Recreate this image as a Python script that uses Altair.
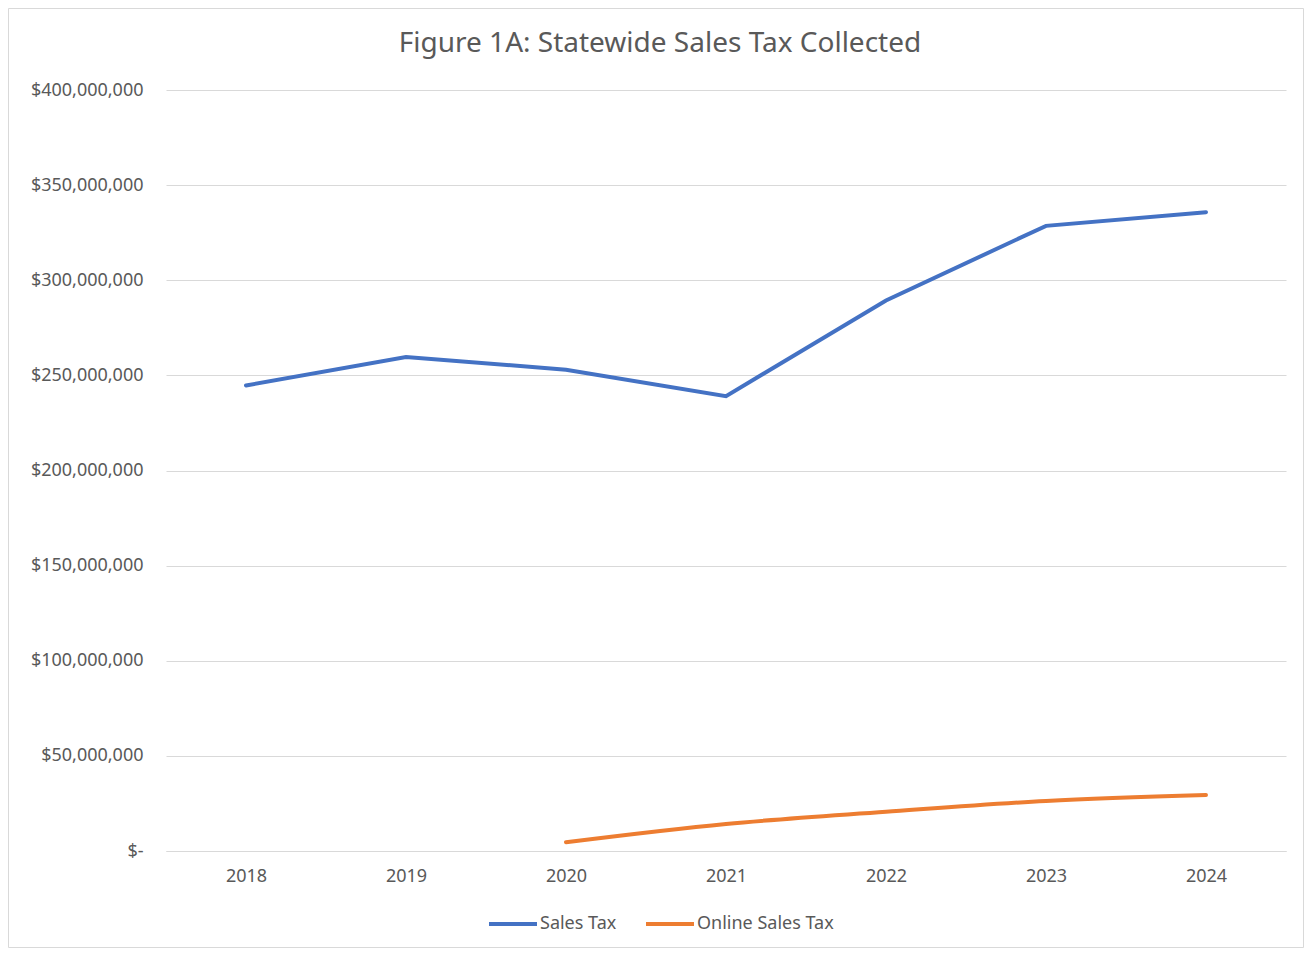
import altair as alt
import pandas as pd

years = ["2018", "2019", "2020", "2021", "2022", "2023", "2024"]
sales_tax = [244.7e6, 259.6e6, 253.0e6, 239.1e6, 289.4e6, 328.6e6, 335.8e6]
online_years = ["2020", "2021", "2022", "2023", "2024"]
online_tax = [4.6e6, 14.2e6, 20.6e6, 26.3e6, 29.4e6]
series_names = ["Sales Tax", "Online Sales Tax"]
series_colors = ["#4472C4", "#ED7D31"]
y_ticks = [0, 50e6, 100e6, 150e6, 200e6, 250e6, 300e6, 350e6, 400e6]

FONT = "Noto Sans"
GREY = "#595959"

df_sales = pd.DataFrame({"Year": years, "Value": sales_tax, "Series": series_names[0]})
df_online = pd.DataFrame({"Year": online_years, "Value": online_tax, "Series": series_names[1]})

x_enc = alt.X("Year:O", sort=years, scale=alt.Scale(domain=years, padding=0.5),
              axis=alt.Axis(title=None, labelAngle=0, ticks=False, domain=True,
                            domainColor="#d9d9d9", labelFontSize=18, labelColor=GREY,
                            labelFont=FONT, labelPadding=16, grid=False))
y_enc = alt.Y("Value:Q", scale=alt.Scale(domain=[0, 400e6], nice=False),
              axis=alt.Axis(title=None, values=y_ticks, ticks=False, domain=False,
                            gridColor="#d9d9d9", gridWidth=1, labelFontSize=18,
                            labelColor=GREY, labelFont=FONT, labelPadding=23,
                            labelExpr="datum.value == 0 ? '$-\u00a0\u00a0' : '$' + format(datum.value, ',')"))
color_enc = alt.Color("Series:N", scale=alt.Scale(domain=series_names, range=series_colors),
                      legend=alt.Legend(title=None, orient="none", legendX=321, legendY=808,
                                        direction="horizontal", symbolType="stroke",
                                        symbolSize=2304, symbolStrokeWidth=4,
                                        labelFontSize=18, labelColor=GREY, labelFont=FONT,
                                        labelOffset=1, columnPadding=21, padding=0))

sales_line = alt.Chart(df_sales).mark_line(strokeWidth=4, strokeCap="round").encode(
    x=x_enc, y=y_enc, color=color_enc)
online_line = alt.Chart(df_online).mark_line(strokeWidth=4, strokeCap="round",
                                             interpolate="monotone").encode(
    x=x_enc, y=y_enc, color=color_enc)

frame = alt.Chart(pd.DataFrame({"a": [0]})).mark_rect(
    fill=None, stroke="#d9d9d9", strokeWidth=1).encode(
    x=alt.value(-157.5), x2=alt.value(1137.5), y=alt.value(-81.5), y2=alt.value(857.5))

chart = alt.layer(frame, sales_line, online_line).properties(
    width=1120, height=761,
    title=alt.TitleParams("Figure 1A: Statewide Sales Tax Collected", fontSize=28,
                          font=FONT, color=GREY, fontWeight="normal", anchor="middle",
                          frame="group", dx=-66, offset=-50),
    autosize=alt.AutoSizeParams(type="none"),
    padding={"left": 158, "top": 82, "right": 18, "bottom": 97},
).configure(background="white").configure_view(stroke=None)

chart.save("out.html", embed_options={"renderer": "svg", "actions": False})
